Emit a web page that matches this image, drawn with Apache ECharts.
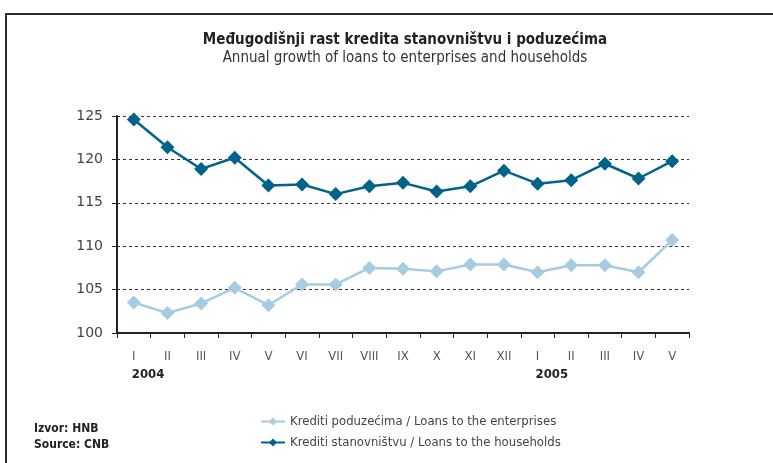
<!DOCTYPE html>
<html>
<head>
<meta charset="utf-8">
<script src="https://cdn.jsdelivr.net/npm/echarts@6/dist/echarts.min.js"></script>
<style>
  html, body { margin: 0; padding: 0; background: #fff; }
  #chart { width: 773px; height: 463px; }
</style>
</head>
<body>
<div id="chart"></div>
<script>
const months = ['I', 'II', 'III', 'IV', 'V', 'VI', 'VII', 'VIII', 'IX', 'X', 'XI', 'XII', 'I', 'II', 'III', 'IV', 'V']
const years = ['2004', '', '', '', '', '', '', '', '', '', '', '', '2005', '', '', '', '']
const enterprises = [103.5, 102.3, 103.4, 105.2, 103.2, 105.6, 105.6, 107.5, 107.4, 107.1, 107.9, 107.9, 107.0, 107.8, 107.8, 107.0, 110.7]
const households = [124.6, 121.4, 118.9, 120.2, 117.0, 117.1, 116.0, 116.9, 117.3, 116.3, 116.9, 118.7, 117.2, 117.6, 119.5, 117.8, 119.8]

const narrow = "'Liberation Sans Narrow', 'DejaVu Sans Condensed', sans-serif"
const dark = '#03628a'
const light = '#a5cce0'

const chart = echarts.init(document.getElementById('chart'))

chart.setOption({
  animation: false,
  grid: { left: 117, right: 84, top: 116, bottom: 130 },
  graphic: [
    {
      type: 'polyline',
      shape: { points: [[6, 463], [6, 14], [773, 14]] },
      style: { stroke: '#2a2a2a', lineWidth: 2, fill: null }
    },
    {
      type: 'text', x: 405, y: 40,
      style: { text: 'Međugodišnji rast kredita stanovništvu i poduzećima', font: 'bold 15px ' + narrow, fill: '#222', align: 'center', verticalAlign: 'middle' }
    },
    {
      type: 'text', x: 405, y: 58,
      style: { text: 'Annual growth of loans to enterprises and households', font: '15px ' + narrow, fill: '#333', align: 'center', verticalAlign: 'middle' }
    },
    {
      type: 'text', x: 34, y: 421,
      style: { text: 'Izvor: HNB\nSource: CNB', font: 'bold 12px ' + narrow, fill: '#222', lineHeight: 16 }
    }
  ],
  legend: {
    orient: 'vertical',
    left: 255,
    top: 410,
    itemWidth: 24,
    itemHeight: 10,
    itemGap: 8,
    textStyle: { fontFamily: narrow, fontSize: 13, color: '#444' },
    data: ['Krediti poduzećima / Loans to the enterprises', 'Krediti stanovništvu / Loans to the households']
  },
  xAxis: [
    {
      type: 'category',
      data: months,
      boundaryGap: true,
      axisLine: { lineStyle: { color: '#222', width: 2 } },
      axisTick: { show: true, length: 5, lineStyle: { color: '#222' } },
      axisLabel: { interval: 0, margin: 17, fontFamily: narrow, fontSize: 13, color: '#555' }
    },
    {
      type: 'category',
      data: years,
      position: 'bottom',
      boundaryGap: true,
      axisLine: { show: false },
      axisTick: { show: false },
      axisLabel: { interval: 0, margin: 35, align: 'left', padding: [0, 0, 0, -2], fontFamily: narrow, fontWeight: 'bold', fontSize: 13, color: '#222' }
    }
  ],
  yAxis: {
    type: 'value',
    min: 100,
    max: 125,
    interval: 5,
    axisLine: { show: true, lineStyle: { color: '#222', width: 2 } },
    axisTick: { show: true, length: 5, lineStyle: { color: '#222' } },
    axisLabel: { margin: 14, fontFamily: "'DejaVu Sans', sans-serif", fontSize: 14, color: '#444' },
    splitLine: { lineStyle: { color: '#333', type: [3, 3], width: 1 } }
  },
  series: [
    {
      name: 'Krediti poduzećima / Loans to the enterprises',
      type: 'line',
      data: enterprises,
      symbol: 'diamond',
      symbolSize: 14,
      lineStyle: { color: light, width: 2.5 },
      itemStyle: { color: light }
    },
    {
      name: 'Krediti stanovništvu / Loans to the households',
      type: 'line',
      data: households,
      symbol: 'diamond',
      symbolSize: 14,
      lineStyle: { color: dark, width: 2.5 },
      itemStyle: { color: dark }
    }
  ]
})
</script>
</body>
</html>
